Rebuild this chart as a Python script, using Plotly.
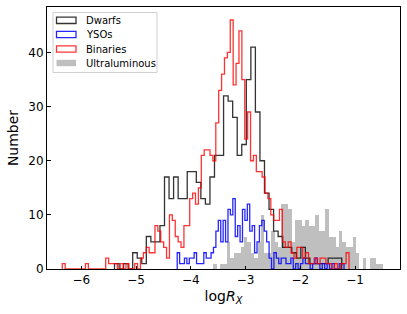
import numpy as np
import plotly.graph_objects as go

# ---- data (histogram counts) ----
binaries_start = -6.347
binaries_width = 0.0529
binaries_counts = [1, 0, 0, 0, 0, 0, 0, 0, 1, 0,
                   0, 0, 0, 0, 0, 2, 1, 1, 1, 0,
                   1, 0, 1, 0, 0, 1, 0, 2, 3, 4,
                   3, 3, 8, 7, 5, 4, 2, 10, 9, 6,
                   5, 4, 8, 8, 13, 14, 12, 15, 21, 22,
                   22, 21, 20, 27, 33, 36, 39, 40, 46, 34,
                   38, 44, 35, 24, 29, 20, 21, 18, 18, 17,
                   14, 13, 10, 9, 9, 11, 5, 4, 5, 3,
                   2, 4, 4, 2, 3, 1, 1, 2, 1, 2,
                   2, 1, 1, 0, 1, 0, 1, 1, 3]

dwarfs_start = -5.393
dwarfs_width = 0.0830
dwarfs_counts = [1, 0, 1, 0, 3, 2, 1, 6, 5, 5,
                 8, 17, 13, 17, 13, 13, 18, 18, 16, 13,
                 12, 17, 21, 21, 32, 31, 28, 21, 23, 35,
                 41, 29, 20, 14, 11, 7, 6, 4, 4, 3,
                 2, 4, 2, 1, 1, 1, 1, 2, 2, 2]

ysos_start = -4.248
ysos_width = 0.04416
ysos_counts = [3, 1, 1, 2, 1, 2, 2, 3, 1, 1,
               1, 3, 2, 2, 3, 4, 7, 9, 5, 9,
               5, 11, 10, 13, 6, 8, 5, 11, 9, 12,
               7, 8, 3, 5, 8, 9, 7, 5, 2, 0,
               3, 2, 1, 2, 2, 1, 1, 2, 0, 1,
               0, 1, 2, 1, 1, 0, 1, 2, 1, 0,
               1, 0, 1, 0, 1, 0, 0, 1, 1]

ulx_start = -3.586
ulx_width = 0.0620
ulx_counts = [1, 0, 1, 1, 5, 2, 3, 3, 4, 6,
              5, 3, 2, 5, 10, 3, 3, 7, 5, 4,
              12, 12, 11, 5, 9, 9, 8, 9, 8, 8,
              10, 7, 7, 11, 6, 6, 4, 7, 5, 4,
              4, 6, 3, 0, 2, 0, 2, 2, 1, 1]

x_ticks = [-6, -5, -4, -3, -2, -1]
y_ticks = [0, 10, 20, 30, 40]
legend_labels = ["Dwarfs", "YSOs", "Binaries", "Ultraluminous"]

FONT = "DejaVu Sans"
W, H = 407, 314
ML, MR, MT, MB = 47, 7, 7, 45
PW, PH = W - ML - MR, H - MT - MB


def edges_of(start, width, counts):
    return start + width * np.arange(len(counts) + 1)


def step_xy(start, width, counts):
    e = edges_of(start, width, counts)
    xs = np.repeat(e, 2)
    ys = np.concatenate([[0], np.repeat(np.asarray(counts, float), 2), [0]])
    return xs, ys


def px_x(px):
    return (px - ML) / PW


def px_y(py):
    return (H - MB - py) / PH


fig = go.Figure()

GRAY = "rgba(128,128,128,0.5)"
ue = edges_of(ulx_start, ulx_width, ulx_counts)
fig.add_trace(go.Bar(
    x=(ue[:-1] + ue[1:]) / 2, y=ulx_counts, width=ulx_width,
    marker=dict(color=GRAY, line=dict(width=0)),
    name="Ultraluminous", showlegend=False, hoverinfo="skip"))

series = [
    ("Dwarfs", dwarfs_start, dwarfs_width, dwarfs_counts, "rgba(0,0,0,0.8)"),
    ("YSOs", ysos_start, ysos_width, ysos_counts, "rgba(0,0,255,0.85)"),
    ("Binaries", binaries_start, binaries_width, binaries_counts, "rgba(255,0,0,0.8)"),
]
for name, s, w, c, col in series:
    xs, ys = step_xy(s, w, c)
    fig.add_trace(go.Scatter(x=xs, y=ys, mode="lines", name=name,
                             line=dict(color=col, width=1.3),
                             showlegend=False, hoverinfo="skip"))

# ---- legend drawn as shapes + annotations (matplotlib style) ----
shapes = [dict(type="rect", xref="paper", yref="paper",
               x0=px_x(53), x1=px_x(157), y0=px_y(72.5), y1=px_y(12.5),
               line=dict(color="#d0d0d0", width=1),
               fillcolor="rgba(255,255,255,0.8)", layer="above")]
annotations = []
centers = [20.3, 34.5, 49.0, 63.0]
colors = [series[0][4], series[1][4], series[2][4], GRAY]
for i, lab in enumerate(legend_labels):
    cy = centers[i]
    filled = lab == "Ultraluminous"
    shapes.append(dict(type="rect", xref="paper", yref="paper",
                       x0=px_x(56.5), x1=px_x(76), y0=px_y(cy + 3.2), y1=px_y(cy - 3.2),
                       line=dict(color=colors[i], width=0 if filled else 1.3),
                       fillcolor=colors[i] if filled else "rgba(0,0,0,0)",
                       layer="above"))
    annotations.append(dict(text=lab, xref="paper", yref="paper",
                            x=px_x(84), y=px_y(cy), xanchor="left", yanchor="middle",
                            showarrow=False, font=dict(size=10, family=FONT, color="black")))

fig.update_layout(
    width=W, height=H,
    margin=dict(l=ML, r=MR, t=MT, b=MB),
    paper_bgcolor="white", plot_bgcolor="white",
    barmode="overlay", bargap=0,
    font=dict(family=FONT, size=12, color="black"),
    showlegend=False,
    shapes=shapes, annotations=annotations,
)
fig.update_xaxes(range=[-6.626, -0.179], tickvals=x_ticks, automargin=False,
                 ticks="inside", ticklen=3.5, tickwidth=1, tickcolor="black",
                 showline=True, linecolor="black", linewidth=1, mirror=True,
                 showgrid=False, zeroline=False,
                 tickfont=dict(size=12),
                 title=dict(text="log<i>R</i><sub><i>X</i></sub>",
                            font=dict(size=14), standoff=4))
fig.update_yaxes(range=[0, 48.4], tickvals=y_ticks, automargin=False,
                 ticks="inside", ticklen=3.5, tickwidth=1, tickcolor="black",
                 showline=True, linecolor="black", linewidth=1, mirror=True,
                 showgrid=False, zeroline=False,
                 tickfont=dict(size=12),
                 title=dict(text="Number", font=dict(size=14), standoff=6))

fig.write_html("out.html", config={"displayModeBar": False},
               post_script="document.body.style.margin='0';document.body.style.overflow='hidden';")
